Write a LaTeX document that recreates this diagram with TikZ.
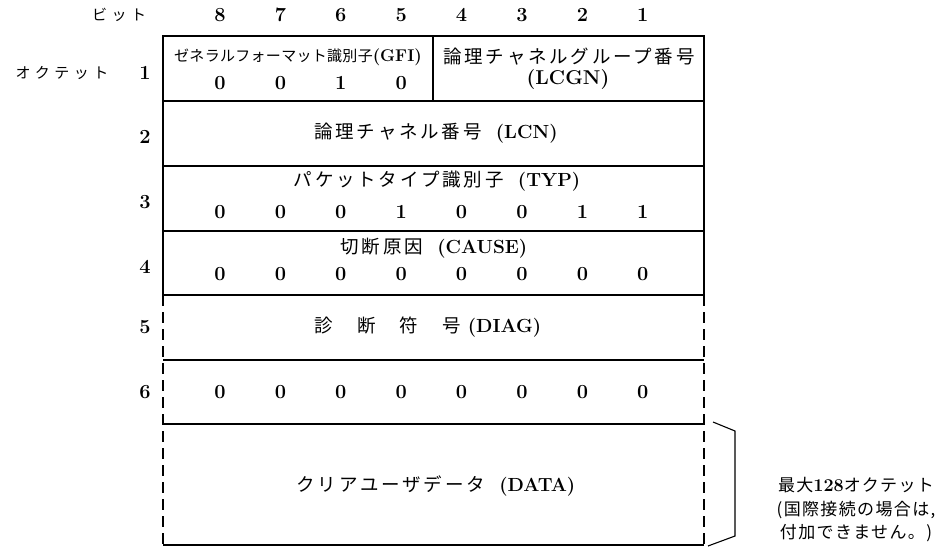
\documentclass[tikz,border=0pt]{standalone}
\usepackage{fontspec}
\newfontfamily\jp[LetterSpace=15]{Noto Sans CJK JP}
\newfontfamily\jpnar[LetterSpace=2]{Noto Sans CJK JP}
\newfontfamily\jpwide[LetterSpace=30]{Noto Sans CJK JP}
\newfontfamily\jpnote[LetterSpace=8]{Noto Sans CJK JP}
\newcommand\lat[1]{{\rmfamily\bfseries\fontsize{19}{22}\selectfont #1}}
\tikzset{
  numtxt/.style={font=\fontsize{20}{24}\selectfont\bfseries, inner sep=0pt},
  jptxt/.style={font=\fontsize{15}{20}\selectfont\jpnar, inner sep=0pt},
  jpbig/.style={font=\fontsize{18.5}{22}\selectfont\jp, inner sep=0pt},
  jpside/.style={font=\fontsize{15}{18}\selectfont\jpwide, inner sep=0pt},
  jpnotes/.style={font=\fontsize{17}{20}\selectfont\jpnote, inner sep=0pt},
  frame/.style={line width=1.3pt},
  dashframe/.style={line width=1.3pt, dash pattern=on 11pt off 6pt},
  bracketline/.style={line width=1.1pt},
}
\begin{document}
\begin{tikzpicture}[x=1pt,y=-1pt]
\useasboundingbox (0,0) rectangle (937,547);
% column header
\node[jpside] (bitlbl) at (119,15) {ビット};
\foreach \b in {8,...,1} {
  \node[numtxt] (h\b) at ({220+60.4*(8-\b)},15) {\b};
}
\node[jpside] (octlbl) at (62,73) {オクテット};
\foreach \r/\y in {1/73,2/137,3/202,4/267,5/327,6/392} {
  \node[numtxt] (o\r) at (145,\y) {\r};
}
% frame
\coordinate (tl) at (163,36);
\coordinate (tr) at (704,36);
\coordinate (ml) at (163,295);
\coordinate (mr) at (704,295);
\coordinate (bl) at (163,545);
\coordinate (br) at (704,545);
\draw[frame] (ml) -- (tl) -- (tr) -- (mr);
\foreach \y in {101,166,231,295,360,424,545} {
  \draw[frame] (163,\y) -- (704,\y);
}
\draw[frame] (433,36) -- (433,101);
\draw[dashframe] (ml) -- (bl);
\draw[dashframe] (mr) -- (br);
% row 1
\node[jptxt] (gfi) at (298,57) {ゼネラルフォーマット識別子{\rmfamily\bfseries\fontsize{17}{20}\selectfont(GFI)}};
\foreach \b/\v in {8/0,7/0,6/1,5/0} {
  \node[numtxt] (ra\b) at ({220+60.4*(8-\b)},83) {\v};
}
\node[jpbig] (lcgn) at (569,57) {論理チャネルグループ番号};
\node[numtxt] (lcgnab) at (568,80) {(LCGN)};
% row 2
\node[jpbig] (lcn) at (436,133) {論理チャネル番号\lat{\ \ (LCN)}};
% row 3
\node[jpbig] (typ) at (437,181) {パケットタイプ識別子\lat{\ \ (TYP)}};
\foreach \b/\v in {8/0,7/0,6/0,5/1,4/0,3/0,2/1,1/1} {
  \node[numtxt] (rc\b) at ({220+60.4*(8-\b)},212) {\v};
}
% row 4
\node[jpbig] (cause) at (434,248) {切断原因\lat{\ \ (CAUSE)}};
\foreach \b in {8,...,1} {
  \node[numtxt] (rd\b) at ({220+60.4*(8-\b)},274) {0};
}
% row 5
\node[jpbig] (diag) at (428,327) {診\hspace{24pt}断\hspace{24pt}符\hspace{24pt}号\lat{\ (DIAG)}};
% row 6
\foreach \b in {8,...,1} {
  \node[numtxt] (rf\b) at ({220+60.4*(8-\b)},392) {0};
}
% row 7
\node[jpbig] (data) at (436,486) {クリアユーザデータ\lat{\ \ (DATA)}};
% bracket
\coordinate (k1) at (713,422);
\coordinate (k2) at (735,431);
\coordinate (k3) at (735,536);
\coordinate (k4) at (708,546);
\draw[bracketline] (k1) -- (k2) -- (k3) -- (k4);
\node[jpnotes] (max) at (856,485) {最大{\rmfamily\bfseries\fontsize{18}{20}\selectfont 128}オクテット};
\node[jpnotes] (note1) at (856,510) {(国際接続の場合は,};
\node[jpnotes] (note2) at (856,533) {付加できません。)};
\end{tikzpicture}
\end{document}
